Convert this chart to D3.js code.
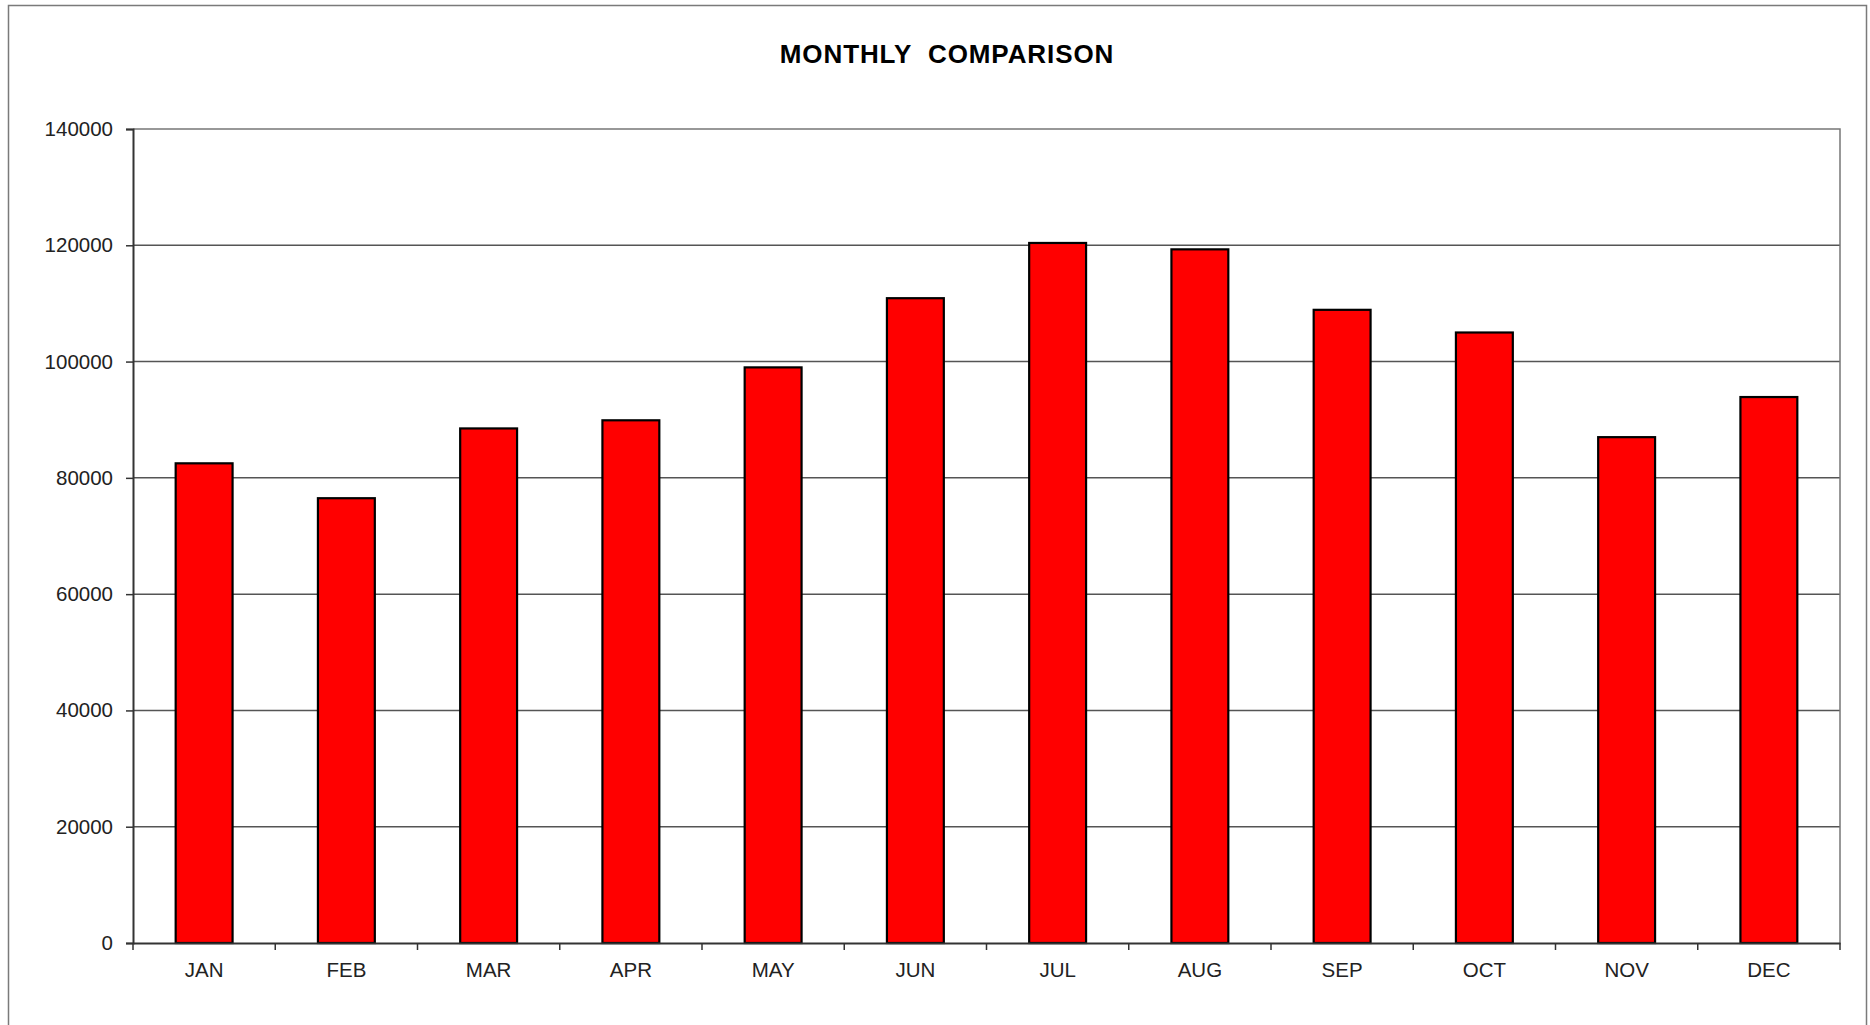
<!DOCTYPE html>
<html>
<head>
<meta charset="utf-8">
<script src="https://cdn.jsdelivr.net/npm/d3@7"></script>
<style>
  html, body { margin: 0; padding: 0; background: #fff; }
  svg { display: block; }
  text { font-family: "Liberation Sans", Arial, sans-serif; }
</style>
</head>
<body>
<script>
// Monthly totals
const months = ["JAN", "FEB", "MAR", "APR", "MAY", "JUN", "JUL", "AUG", "SEP", "OCT", "NOV", "DEC"];
const values = [82500, 76500, 88500, 89900, 99000, 110900, 120400, 119300, 108900, 105000, 87000, 93900];
const yTicks = [0, 20000, 40000, 60000, 80000, 100000, 120000, 140000];
const title = "MONTHLY  COMPARISON";

const W = 1870, H = 1025;
const plot = { left: 133, right: 1840, top: 129, bottom: 943 };

const svg = d3.select("body").append("svg")
  .attr("width", W).attr("height", H);

// outer chart frame
svg.append("rect")
  .attr("x", 8.5).attr("y", 5.5)
  .attr("width", 1858).attr("height", 1040)
  .attr("fill", "#fff").attr("stroke", "#7a7a7a").attr("stroke-width", 1.5);

svg.append("text")
  .attr("x", 947).attr("y", 63)
  .attr("text-anchor", "middle")
  .attr("font-size", 26).attr("font-weight", "bold")
  .attr("letter-spacing", 0.9)
  .attr("fill", "#000")
  .style("white-space", "pre")
  .text(title);

const x = d3.scaleBand().domain(months).range([plot.left, plot.right]).padding(0);
const y = d3.scaleLinear().domain([0, 140000]).range([plot.bottom, plot.top]);

// horizontal gridlines
svg.append("g")
  .selectAll("line")
  .data(yTicks.filter(t => t > 0 && t < 140000))
  .join("line")
  .attr("x1", plot.left).attr("x2", plot.right)
  .attr("y1", d => y(d)).attr("y2", d => y(d))
  .attr("stroke", "#555").attr("stroke-width", 1.5);

// top and right edges of the plot area
svg.append("path")
  .attr("d", `M${plot.left},${y(140000)}H${plot.right}V${plot.bottom}`)
  .attr("fill", "none").attr("stroke", "#777").attr("stroke-width", 1.5);

// bars
const barW = x.bandwidth() * 0.4;
svg.append("g")
  .selectAll("rect")
  .data(months.map((m, i) => ({ m, v: values[i] })))
  .join("rect")
  .attr("x", d => x(d.m) + (x.bandwidth() - barW) / 2)
  .attr("y", d => y(d.v))
  .attr("width", barW)
  .attr("height", d => y(0) - y(d.v))
  .attr("fill", "#ff0000")
  .attr("stroke", "#000").attr("stroke-width", 2.2);

// y axis
const yAxis = svg.append("g")
  .attr("transform", `translate(${plot.left},0)`)
  .call(d3.axisLeft(y).tickValues(yTicks).tickSize(7).tickPadding(13).tickFormat(d3.format("d")));
yAxis.select(".domain").attr("stroke", "#333").attr("stroke-width", 2);
yAxis.selectAll(".tick line").attr("stroke", "#333").attr("stroke-width", 1.5);
yAxis.selectAll("text").attr("font-size", 20.5).attr("fill", "#222")
  .attr("font-family", "'Liberation Sans', Arial, sans-serif");

// x axis with ticks on band boundaries
const xAxis = svg.append("g")
  .attr("transform", `translate(0,${plot.bottom})`)
  .call(d3.axisBottom(x).tickSize(0).tickPadding(19));
xAxis.select(".domain").attr("stroke", "#333").attr("stroke-width", 2);
xAxis.selectAll("text").attr("font-size", 20.5).attr("fill", "#222")
  .attr("font-family", "'Liberation Sans', Arial, sans-serif");
xAxis.append("g")
  .selectAll("line")
  .data(months.map(m => x(m)).concat([plot.right]))
  .join("line")
  .attr("x1", d => d).attr("x2", d => d)
  .attr("y1", 0).attr("y2", 7)
  .attr("stroke", "#333").attr("stroke-width", 1.5);
</script>
</body>
</html>
